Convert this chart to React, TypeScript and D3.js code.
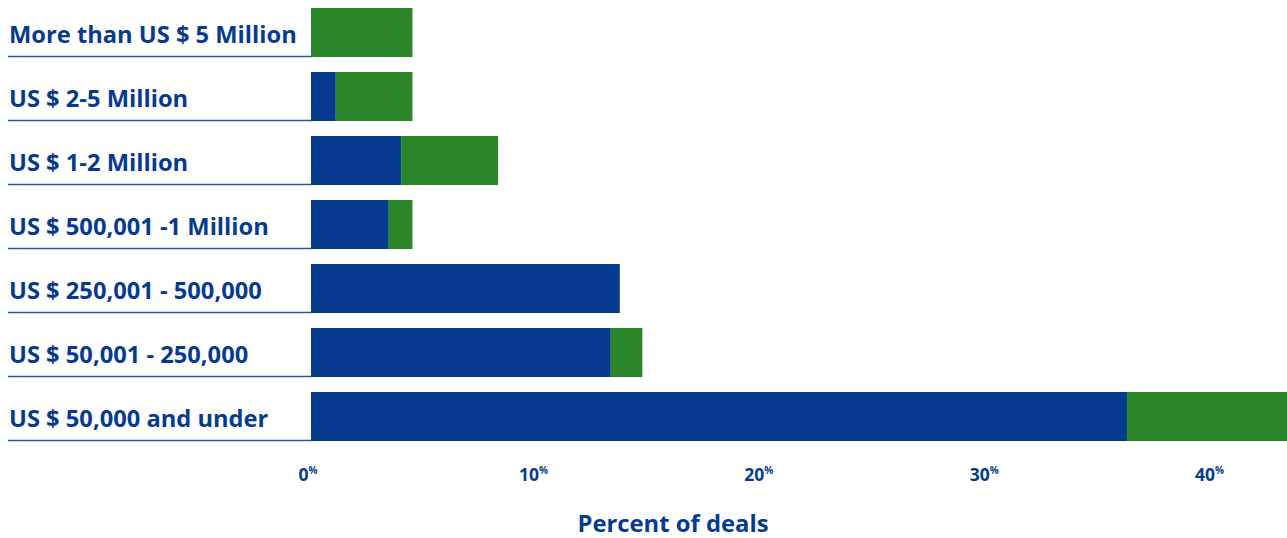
import React from "react";
import * as d3 from "d3";

const categories = [
  "More than US $ 5 Million",
  "US $ 2-5 Million",
  "US $ 1-2 Million",
  "US $ 500,001 -1 Million",
  "US $ 250,001 - 500,000",
  "US $ 50,001 - 250,000",
  "US $ 50,000 and under",
];
const blueValues = [0, 1.1, 4.0, 3.45, 13.7, 13.3, 36.2];
const greenValues = [4.5, 3.4, 4.3, 1.05, 0, 1.4, 7.1];
const tickValues = [0, 10, 20, 30, 40];
const axisTitle = "Percent of deals";

const BLUE = "#053b8f";
const GREEN = "#2a8629";
const FONT = "'Open Sans', sans-serif";

export default function App() {
  const width = 1287;
  const height = 538;
  const x = d3.scaleLinear().domain([0, 43.3]).range([311, 1287]);
  const y = d3.scaleBand().domain(categories).range([8, 441]).paddingInner(0.234).paddingOuter(0);
  const bw = y.bandwidth();
  return (
    <svg width={width} height={height} style={{ position: "absolute", left: 0, top: 0, display: "block" }}>
      {categories.map((c, i) => {
        const y0 = y(c)!;
        const b = blueValues[i];
        const g = greenValues[i];
        return (
          <g key={c}>
            <text x={9} y={y0 + bw / 2 + 10.5} fontFamily={FONT} fontWeight={700} fontSize={23.7} fill={BLUE}>
              {c}
            </text>
            <line x1={8} x2={x(0) + 1} y1={y0 + bw - 0.5} y2={y0 + bw - 0.5} stroke={BLUE} strokeWidth={1.5} opacity={0.85} />
            {b > 0 && <rect x={x(0)} y={y0} width={x(b) - x(0)} height={bw} fill={BLUE} />}
            {g > 0 && <rect x={x(b)} y={y0} width={x(b + g) - x(b)} height={bw} fill={GREEN} />}
          </g>
        );
      })}
      {tickValues.map((t) => (
        <text key={t} x={x(t) - 3} y={481} textAnchor="middle" fontFamily={FONT} fontWeight={700} fontSize={17.5} fill={BLUE}>
          {t}
          <tspan fontSize={10} dy={-7}>%</tspan>
        </text>
      ))}
      <text x={673} y={532} textAnchor="middle" fontFamily={FONT} fontWeight={700} fontSize={23.8} fill={BLUE}>
        {axisTitle}
      </text>
    </svg>
  );
}
